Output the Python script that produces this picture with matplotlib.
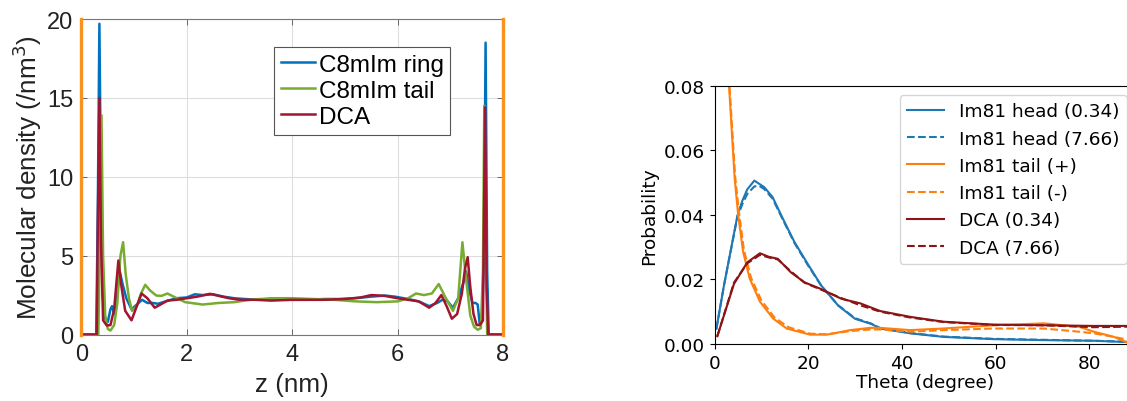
import matplotlib
matplotlib.use("Agg")
import matplotlib.pyplot as plt

# ---------- left panel: density profiles along z ----------
wall_z = [0, 8]

ring_z = [0.0, 0.28, 0.31, 0.34, 0.37, 0.40, 0.45, 0.50, 0.55, 0.58, 0.62, 0.67, 0.73, 0.78, 0.85,
          0.95, 1.05, 1.15, 1.25, 1.35, 1.45, 1.6, 1.8, 2.0, 2.15, 2.3, 2.5, 2.7, 2.9, 3.1, 3.4,
          3.7, 4.0, 4.3, 4.6, 4.9, 5.2, 5.5, 5.76, 5.95, 6.2, 6.4, 6.6, 6.75, 6.85, 6.95, 7.05,
          7.15, 7.25, 7.3, 7.36, 7.42, 7.48, 7.52, 7.56, 7.60, 7.64, 7.67, 7.70, 7.73, 8.0]
ring_d = [0.0, 0.0, 8.0, 19.7, 9.0, 2.5, 1.0, 0.8, 1.6, 1.8, 1.3, 2.5, 3.95, 3.2, 2.3,
          1.6, 1.9, 2.2, 2.0, 2.0, 1.95, 2.1, 2.3, 2.35, 2.55, 2.5, 2.55, 2.4, 2.3, 2.25, 2.2,
          2.25, 2.2, 2.2, 2.25, 2.25, 2.3, 2.4, 2.47, 2.4, 2.25, 2.1, 1.8, 2.0, 2.2, 2.1, 1.7,
          2.3, 3.3, 4.0, 2.8, 2.0, 2.0, 1.9, 0.6, 0.8, 5.0, 18.5, 4.0, 0.0, 0.0]

tail_z = [0.0, 0.32, 0.35, 0.38, 0.41, 0.45, 0.50, 0.55, 0.62, 0.68, 0.74, 0.79, 0.84, 0.90,
          0.96, 1.05, 1.13, 1.21, 1.30, 1.42, 1.52, 1.63, 1.75, 1.97, 2.3, 2.6, 2.9, 3.2, 3.6,
          4.0, 4.4, 4.8, 5.2, 5.6, 6.0, 6.2, 6.35, 6.5, 6.65, 6.78, 6.9, 7.05, 7.15, 7.23,
          7.3, 7.38, 7.45, 7.52, 7.58, 7.62, 7.645, 7.67, 7.70, 8.0]
tail_d = [0.0, 0.0, 6.0, 13.9, 5.0, 1.2, 0.35, 0.25, 0.6, 2.0, 5.0, 5.85, 3.8, 2.3,
          1.5, 1.8, 2.6, 3.15, 2.8, 2.47, 2.45, 2.6, 2.4, 2.05, 1.9, 2.0, 2.05, 2.2, 2.3,
          2.3, 2.25, 2.2, 2.1, 2.05, 2.1, 2.3, 2.6, 2.5, 2.6, 3.2, 2.4, 1.5, 2.3, 5.85,
          3.5, 1.2, 0.5, 0.3, 0.4, 4.0, 14.5, 6.0, 0.0, 0.0]

dca_z = [0.0, 0.29, 0.31, 0.34, 0.37, 0.41, 0.48, 0.55, 0.62, 0.70, 0.76, 0.83, 0.95,
         1.05, 1.14, 1.25, 1.39, 1.5, 1.63, 1.8, 2.0, 2.2, 2.44, 2.6, 2.8, 3.0, 3.3, 3.6,
         4.0, 4.3, 4.6, 5.0, 5.3, 5.5, 5.75, 6.0, 6.2, 6.4, 6.6, 6.72, 6.83, 6.93, 7.03,
         7.13, 7.22, 7.28, 7.33, 7.38, 7.44, 7.50, 7.56, 7.62, 7.66, 7.69, 7.72, 8.0]
dca_d = [0.0, 0.0, 7.0, 15.0, 6.0, 0.9, 0.57, 0.6, 1.6, 4.69, 3.0, 1.5, 0.9,
         1.8, 2.6, 2.3, 1.7, 1.9, 2.15, 2.2, 2.3, 2.4, 2.58, 2.45, 2.3, 2.2, 2.2, 2.15,
         2.2, 2.2, 2.2, 2.25, 2.35, 2.5, 2.45, 2.3, 2.2, 2.1, 1.7, 2.0, 2.5, 1.8, 1.0,
         1.3, 2.6, 4.2, 4.9, 3.0, 1.3, 0.6, 0.6, 0.9, 14.4, 3.0, 0.0, 0.0]

# ---------- right panel: angle distributions ----------
head1_t = [0.4, 2.0, 4.9, 5.95, 7.0, 8.5, 10.6, 12.4, 14.6, 17.1, 19.9, 22.8, 26.4, 30.0,
           33.5, 35.4, 41.8, 48.9, 59.6, 70.3, 81.0, 88.2, 90.0]
head1_p = [0.0047, 0.018, 0.0398, 0.0444, 0.0479, 0.0506, 0.0486, 0.0455, 0.0388, 0.0315,
           0.0248, 0.0181, 0.0119, 0.0078, 0.0062, 0.0048, 0.0033, 0.0022, 0.0015, 0.0012,
           0.0010, 0.0006, 0.0005]
head2_t = [0.4, 2.0, 4.9, 6.0, 7.0, 8.5, 9.5, 10.6, 12.4, 14.6, 17.1, 19.9, 22.8, 26.4,
           30.0, 33.5, 35.4, 41.8, 48.9, 59.6, 70.3, 81.0, 88.2, 90.0]
head2_p = [0.0047, 0.018, 0.0395, 0.0435, 0.0465, 0.0488, 0.0490, 0.0480, 0.0450, 0.0385,
           0.0312, 0.0245, 0.0180, 0.0120, 0.0080, 0.0063, 0.0049, 0.0034, 0.0023, 0.0016,
           0.0013, 0.0010, 0.0007, 0.0006]

tailp_t = [2.0, 3.1, 4.3, 5.05, 6.1, 7.5, 9.7, 12.5, 15.4, 20.4, 24.0, 29.0, 33.2, 35.4,
           41.8, 48.9, 59.6, 70.3, 77.9, 81.0, 85.3, 88.2, 90.0]
tailp_p = [0.11, 0.08, 0.0513, 0.040, 0.0286, 0.0203, 0.0131, 0.0079, 0.0048, 0.0029,
           0.0029, 0.0043, 0.0050, 0.0050, 0.0043, 0.0048, 0.0058, 0.0064, 0.0053, 0.0038,
           0.0022, 0.0004, 0.0]
tailm_t = [2.0, 3.2, 4.4, 5.2, 6.3, 7.8, 10.0, 12.8, 15.8, 20.4, 24.0, 29.0, 33.2, 35.4,
           41.8, 48.9, 59.6, 70.3, 77.9, 81.0, 85.3, 88.2, 90.0]
tailm_p = [0.11, 0.08, 0.0520, 0.041, 0.0290, 0.0205, 0.0135, 0.0082, 0.0052, 0.0032,
           0.0030, 0.0040, 0.0045, 0.0045, 0.0038, 0.0043, 0.0048, 0.0048, 0.0038, 0.0033,
           0.0022, 0.0013, 0.0008]

dca1_t = [0.6, 4.15, 7.0, 9.7, 11.6, 13.5, 16.3, 19.2, 22.8, 27.1, 31.1, 35.4, 41.8, 48.9,
          59.6, 70.3, 81.0, 90.0]
dca1_p = [0.0024, 0.0186, 0.0253, 0.0281, 0.0270, 0.0264, 0.0222, 0.0191, 0.0170, 0.0140,
          0.0126, 0.0102, 0.0084, 0.0069, 0.0060, 0.0058, 0.0056, 0.0056]
dca2_t = [0.6, 4.15, 7.0, 9.7, 11.6, 13.5, 16.3, 19.2, 22.8, 27.1, 31.1, 35.4, 41.8, 48.9,
          59.6, 70.3, 81.0, 90.0]
dca2_p = [0.0024, 0.0190, 0.0250, 0.0276, 0.0268, 0.0262, 0.0225, 0.0190, 0.0168, 0.0142,
          0.0120, 0.0100, 0.0082, 0.0068, 0.0059, 0.0058, 0.0052, 0.0054]

fig = plt.figure(figsize=(11.27, 4.02), dpi=100)

# ---------- left ----------
ax1 = fig.add_axes([0.0723, 0.1654, 0.374, 0.7848])
lf = "Liberation Sans"
ax1.plot(ring_z, ring_d, color="#0072BD", lw=1.8, label="C8mIm ring")
ax1.plot(tail_z, tail_d, color="#77AC30", lw=1.8, label="C8mIm tail")
ax1.plot(dca_z, dca_d, color="#A2142F", lw=1.8, label="DCA")
for zw in wall_z:
    ax1.plot([zw, zw], [0, 20], color="#F7931E", lw=2.4, clip_on=False, zorder=5)
ax1.set_xlim(0, 8)
ax1.set_ylim(0, 20)
ax1.set_xticks([0, 2, 4, 6, 8])
ax1.set_yticks([0, 5, 10, 15, 20])
ax1.grid(True, color="#dddddd", lw=0.8)
ax1.set_axisbelow(True)
ax1.tick_params(direction="in", top=True, right=True, length=4, width=0.6, colors="#555555",
                labelsize=17, labelcolor="#222222", pad=6)
for lab in ax1.get_xticklabels() + ax1.get_yticklabels():
    lab.set_family(lf)
for s in ax1.spines.values():
    s.set_color("#777777")
    s.set_linewidth(0.8)
ax1.set_xlabel("z (nm)", fontsize=18.8, family=lf, color="#222222", labelpad=5)
ax1.set_ylabel("Molecular density (/nm$^3$)", fontsize=18.8, family=lf, color="#222222",
               labelpad=2)
leg1 = ax1.legend(loc="upper left", bbox_to_anchor=(0.457, 0.912), prop={"family": lf, "size": 17.5},
                  handlelength=1.4, handletextpad=0.15, labelspacing=0.17, borderpad=0.28,
                  borderaxespad=0, fancybox=False, framealpha=1, edgecolor="#555555")
leg1.get_frame().set_linewidth(0.8)

# ---------- right ----------
ax2 = fig.add_axes([0.634, 0.1418, 0.374, 0.6425])
ax2.plot(head1_t, head1_p, color="#1f77b4", lw=1.5, label="Im81 head (0.34)")
ax2.plot(head2_t, head2_p, color="#1f77b4", lw=1.5, ls="--", label="Im81 head (7.66)")
ax2.plot(tailp_t, tailp_p, color="#ff7f0e", lw=1.5, label="Im81 tail (+)")
ax2.plot(tailm_t, tailm_p, color="#ff7f0e", lw=1.5, ls="--", label="Im81 tail (-)")
ax2.plot(dca1_t, dca1_p, color="#8B1414", lw=1.5, label="DCA (0.34)")
ax2.plot(dca2_t, dca2_p, color="#8B1414", lw=1.5, ls="--", label="DCA (7.66)")
ax2.set_xlim(0, 90)
ax2.set_ylim(0, 0.08)
ax2.set_xticks([0, 20, 40, 60, 80])
ax2.set_yticks([0, 0.02, 0.04, 0.06, 0.08])
ax2.set_yticklabels(["0.00", "0.02", "0.04", "0.06", "0.08"])
ax2.tick_params(labelsize=13.3)
ax2.set_xlabel("Theta (degree)", fontsize=13.3, labelpad=1)
ax2.set_ylabel("Probability", fontsize=13.3)
ax2.legend(loc="upper right", fontsize=13.3)

fig.savefig("out.png", dpi=100)
